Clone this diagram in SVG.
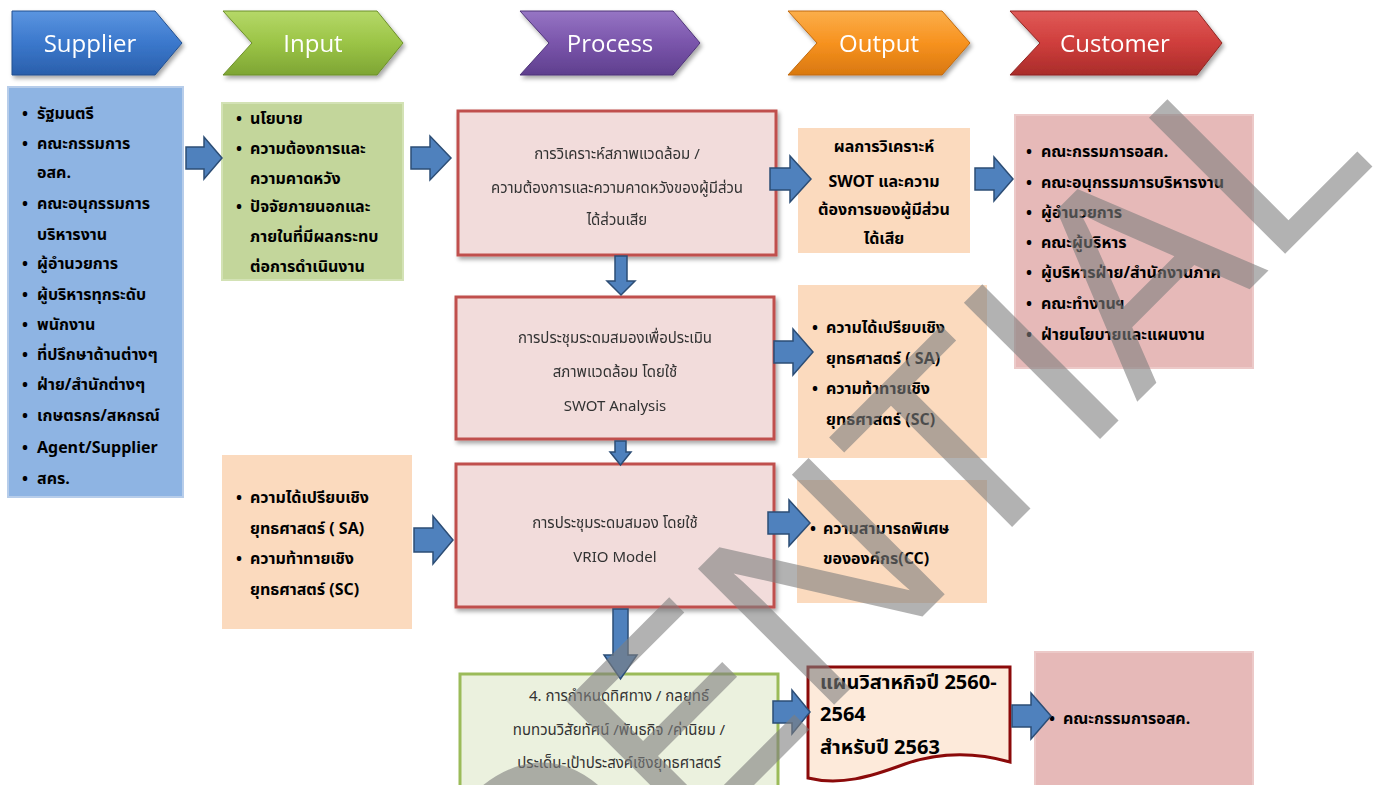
<svg xmlns="http://www.w3.org/2000/svg" width="1373" height="785" viewBox="0 0 1373 785">
  <defs>
    <style>
      .hdr { font-family: "Open Sans", "Noto Sans", sans-serif; font-size: 24px; fill: #ffffff; text-anchor: middle; }
      .th { font-family: "Noto Sans Thai", "Noto Sans", "DejaVu Sans", sans-serif; font-size: 16px; fill: #000000; font-weight: bold; }
      .proc { font-family: "Noto Sans Thai", "Noto Sans", "DejaVu Sans", sans-serif; font-size: 15px; fill: #333333; text-anchor: middle; }
      .doc { font-family: "Noto Sans Thai", "Noto Sans", "DejaVu Sans", sans-serif; font-size: 20px; fill: #000000; font-weight: bold; }
      .arrow { fill: #4f81bd; stroke: #2c4d75; stroke-width: 1.5; }
      .procbox { fill: #f2dcdb; stroke: #c0504d; stroke-width: 3; }
      .outbox { fill: #fbdabe; }
      .custbox { fill: #e6b9b8; stroke: #ecc9c8; stroke-width: 2; }
      .wm { font-family: "Liberation Sans", Arial, sans-serif; font-size: 280px; fill: #7f7f7f; opacity: 0.6; }
    </style>
    <linearGradient id="gBlue" x1="0" y1="0" x2="0" y2="1">
      <stop offset="0" stop-color="#5b95e0"/>
      <stop offset="0.5" stop-color="#3b78cc"/>
      <stop offset="1" stop-color="#2a5fab"/>
    </linearGradient>
    <linearGradient id="gGreen" x1="0" y1="0" x2="0" y2="1">
      <stop offset="0" stop-color="#b5d868"/>
      <stop offset="0.5" stop-color="#9bc446"/>
      <stop offset="1" stop-color="#7ea534"/>
    </linearGradient>
    <linearGradient id="gPurple" x1="0" y1="0" x2="0" y2="1">
      <stop offset="0" stop-color="#9675c4"/>
      <stop offset="0.5" stop-color="#7a55ab"/>
      <stop offset="1" stop-color="#5f3f8e"/>
    </linearGradient>
    <linearGradient id="gOrange" x1="0" y1="0" x2="0" y2="1">
      <stop offset="0" stop-color="#fbae4a"/>
      <stop offset="0.5" stop-color="#f7921f"/>
      <stop offset="1" stop-color="#d9780f"/>
    </linearGradient>
    <linearGradient id="gRed" x1="0" y1="0" x2="0" y2="1">
      <stop offset="0" stop-color="#e05a58"/>
      <stop offset="0.5" stop-color="#cf3e3c"/>
      <stop offset="1" stop-color="#a92c2a"/>
    </linearGradient>
    <filter id="shadow" x="-10%" y="-10%" width="125%" height="130%">
      <feDropShadow dx="2" dy="3" stdDeviation="2" flood-color="#000000" flood-opacity="0.35"/>
    </filter>
  </defs>

  <rect width="1373" height="785" fill="#ffffff"/>

  <!-- header chevrons -->
  <g id="hdr-supplier" filter="url(#shadow)">
    <polygon points="12,11 155,11 182,43 155,75 12,75" fill="url(#gBlue)" stroke="#23508f" stroke-width="1"/>
    <text class="hdr" x="90" y="52">Supplier</text>
  </g>
  <g id="hdr-input" filter="url(#shadow)">
    <polygon points="223,11 377,11 403,43 377,75 223,75 252,43" fill="url(#gGreen)" stroke="#6c8f2a" stroke-width="1"/>
    <text class="hdr" x="313" y="52">Input</text>
  </g>
  <g id="hdr-process" filter="url(#shadow)">
    <polygon points="520,11 673,11 700,43 673,75 520,75 549,43" fill="url(#gPurple)" stroke="#4e3478" stroke-width="1"/>
    <text class="hdr" x="610" y="52">Process</text>
  </g>
  <g id="hdr-output" filter="url(#shadow)">
    <polygon points="788,11 942,11 970,43 942,75 788,75 817,43" fill="url(#gOrange)" stroke="#c06a10" stroke-width="1"/>
    <text class="hdr" x="879" y="52">Output</text>
  </g>
  <g id="hdr-customer" filter="url(#shadow)">
    <polygon points="1010,11 1197,11 1222,43 1197,75 1010,75 1040,43" fill="url(#gRed)" stroke="#8f2523" stroke-width="1"/>
    <text class="hdr" x="1115" y="52">Customer</text>
  </g>

  <!-- supplier list -->
  <g id="supplier">
    <rect x="8" y="87" width="175" height="410" fill="#8eb4e3" stroke="#b7cdea" stroke-width="2"/>
    <g class="th">
      <text x="22" y="119">•</text><text x="37" y="119">รัฐมนตรี</text>
      <text x="22" y="149">•</text><text x="37" y="149">คณะกรรมการ</text>
      <text x="37" y="178">อสค.</text>
      <text x="22" y="209">•</text><text x="37" y="209">คณะอนุกรรมการ</text>
      <text x="37" y="240">บริหารงาน</text>
      <text x="22" y="269">•</text><text x="37" y="269">ผู้อำนวยการ</text>
      <text x="22" y="300">•</text><text x="37" y="300">ผู้บริหารทุกระดับ</text>
      <text x="22" y="330">•</text><text x="37" y="330">พนักงาน</text>
      <text x="22" y="360">•</text><text x="37" y="360">ที่ปรึกษาด้านต่างๆ</text>
      <text x="22" y="390">•</text><text x="37" y="390">ฝ่าย/สำนักต่างๆ</text>
      <text x="22" y="421">•</text><text x="37" y="421">เกษตรกร/สหกรณ์</text>
      <text x="22" y="453">•</text><text x="37" y="453">Agent/Supplier</text>
      <text x="22" y="484">•</text><text x="37" y="484">สคร.</text>
    </g>
  </g>

  <!-- input list -->
  <g id="input">
    <rect x="222" y="103" width="181" height="177" fill="#c3d69b" stroke="#d3e2b5" stroke-width="2"/>
    <g class="th">
      <text x="236" y="124">•</text><text x="250" y="124">นโยบาย</text>
      <text x="236" y="154">•</text><text x="250" y="154">ความต้องการและ</text>
      <text x="250" y="184">ความคาดหวัง</text>
      <text x="236" y="212">•</text><text x="250" y="212">ปัจจัยภายนอกและ</text>
      <text x="250" y="242">ภายในที่มีผลกระทบ</text>
      <text x="250" y="272">ต่อการดำเนินงาน</text>
    </g>
  </g>

  <!-- second input: strategic advantages and challenges -->
  <g id="input-sa-sc">
    <rect x="222" y="455" width="190" height="174" class="outbox"/>
    <g class="th">
      <text x="236" y="503">•</text><text x="250" y="503">ความได้เปรียบเชิง</text>
      <text x="250" y="534">ยุทธศาสตร์ ( SA)</text>
      <text x="236" y="564">•</text><text x="250" y="564">ความท้าทายเชิง</text>
      <text x="250" y="595">ยุทธศาสตร์ (SC)</text>
    </g>
  </g>

  <!-- process steps -->
  <g id="proc-analysis" filter="url(#shadow)">
    <rect x="458" y="111" width="318" height="144" class="procbox"/>
    <g class="proc">
      <text x="617" y="159">การวิเคราะห์สภาพแวดล้อม /</text>
      <text x="617" y="193">ความต้องการและความคาดหวังของผู้มีส่วน</text>
      <text x="617" y="225">ได้ส่วนเสีย</text>
    </g>
  </g>
  <g id="proc-swot" filter="url(#shadow)">
    <rect x="456" y="297" width="318" height="142" class="procbox"/>
    <g class="proc">
      <text x="615" y="343">การประชุมระดมสมองเพื่อประเมิน</text>
      <text x="615" y="377">สภาพแวดล้อม โดยใช้</text>
      <text x="615" y="411">SWOT Analysis</text>
    </g>
  </g>
  <g id="proc-vrio" filter="url(#shadow)">
    <rect x="456" y="464" width="318" height="143" class="procbox"/>
    <g class="proc">
      <text x="615" y="528">การประชุมระดมสมอง โดยใช้</text>
      <text x="615" y="562">VRIO Model</text>
    </g>
  </g>
  <g id="proc-direction">
    <rect x="460" y="674" width="318" height="120" fill="#ebf1de" stroke="#9bbb59" stroke-width="3"/>
    <g class="proc">
      <text x="619" y="701">4. การกำหนดทิศทาง / กลยุทธ์</text>
      <text x="619" y="735">ทบทวนวิสัยทัศน์ /พันธกิจ /ค่านิยม /</text>
      <text x="619" y="768">ประเด็น-เป้าประสงค์เชิงยุทธศาสตร์</text>
    </g>
  </g>

  <!-- outputs -->
  <g id="out-swot">
    <rect x="798" y="128" width="172" height="125" class="outbox"/>
    <g class="th" text-anchor="middle">
      <text x="884" y="152">ผลการวิเคราะห์</text>
      <text x="884" y="187">SWOT และความ</text>
      <text x="884" y="215">ต้องการของผู้มีส่วน</text>
      <text x="884" y="244">ได้เสีย</text>
    </g>
  </g>
  <g id="out-sa-sc">
    <rect x="798" y="285" width="189" height="173" class="outbox"/>
    <g class="th">
      <text x="812" y="333">•</text><text x="826" y="333">ความได้เปรียบเชิง</text>
      <text x="826" y="364">ยุทธศาสตร์ ( SA)</text>
      <text x="812" y="394">•</text><text x="826" y="394">ความท้าทายเชิง</text>
      <text x="826" y="425">ยุทธศาสตร์ (SC)</text>
    </g>
  </g>
  <g id="out-cc">
    <rect x="797" y="480" width="190" height="123" class="outbox"/>
    <g class="th">
      <text x="810" y="534">•</text><text x="823" y="534">ความสามารถพิเศษ</text>
      <text x="823" y="564">ขององค์กร(CC)</text>
    </g>
  </g>
  <g id="out-plan">
    <path d="M808,667 H1010 V762 C975,752 940,752 905,764 C870,777 840,786 808,778 Z" fill="#fdeada" stroke="#8b0a0a" stroke-width="3"/>
    <g class="doc">
      <text x="820" y="689">แผนวิสาหกิจปี 2560-</text>
      <text x="820" y="721">2564</text>
      <text x="820" y="754">สำหรับปี 2563</text>
    </g>
  </g>

  <!-- customers -->
  <g id="customers">
    <rect x="1015" y="115" width="238" height="253" class="custbox"/>
    <g class="th">
      <text x="1026" y="157">•</text><text x="1041" y="157">คณะกรรมการอสค.</text>
      <text x="1026" y="188">•</text><text x="1041" y="188">คณะอนุกรรมการบริหารงาน</text>
      <text x="1026" y="218">•</text><text x="1041" y="218">ผู้อำนวยการ</text>
      <text x="1026" y="248">•</text><text x="1041" y="248">คณะผู้บริหาร</text>
      <text x="1026" y="278">•</text><text x="1041" y="278">ผู้บริหารฝ่าย/สำนักงานภาค</text>
      <text x="1026" y="309">•</text><text x="1041" y="309">คณะทำงานฯ</text>
      <text x="1026" y="340">•</text><text x="1041" y="340">ฝ่ายนโยบายและแผนงาน</text>
    </g>
  </g>
  <g id="customers-plan">
    <rect x="1035" y="652" width="218" height="140" class="custbox"/>
    <g class="th">
      <text x="1049" y="724">•</text><text x="1063" y="724">คณะกรรมการอสค.</text>
    </g>
  </g>

  <!-- block arrows between stages -->
  <g id="connectors">
    <path class="arrow" d="M186,147 H204 V137 L222,158 L204,179 V169 H186 Z"/>
    <path class="arrow" d="M411,147 H430 V136 L451,158 L430,180 V169 H411 Z"/>
    <path class="arrow" d="M770,168 H790 V156 L811,179 L790,202 V190 H770 Z"/>
    <path class="arrow" d="M975,168 H994 V157 L1013,179 L994,201 V190 H975 Z"/>
    <path class="arrow" d="M774,341 H793 V329 L813,352 L793,375 V363 H774 Z"/>
    <path class="arrow" d="M414,528 H433 V516 L453,540 L433,564 V552 H414 Z"/>
    <path class="arrow" d="M768,512 H789 V500 L810,523 L789,546 V534 H768 Z"/>
    <path class="arrow" d="M773,701 H792 V690 L810,712 L792,734 V723 H773 Z"/>
    <path class="arrow" d="M1012,705 H1031 V693 L1051,716 L1031,739 V727 H1012 Z"/>
    <path class="arrow" d="M615,256 H627 V281 H635 L621,295 L607,281 H615 Z"/>
    <path class="arrow" d="M615,441 H626 V452 H631 L620.5,465 L610,452 H615 Z"/>
    <path class="arrow" d="M613,609 H628 V655 H637 L620.5,679 L604,655 H613 Z"/>
  </g>

  <!-- diagonal watermark -->
  <text class="wm" x="1379" y="160" text-anchor="end" transform="rotate(-45 1379 160)">CONFIDENTIAL</text>
</svg>
